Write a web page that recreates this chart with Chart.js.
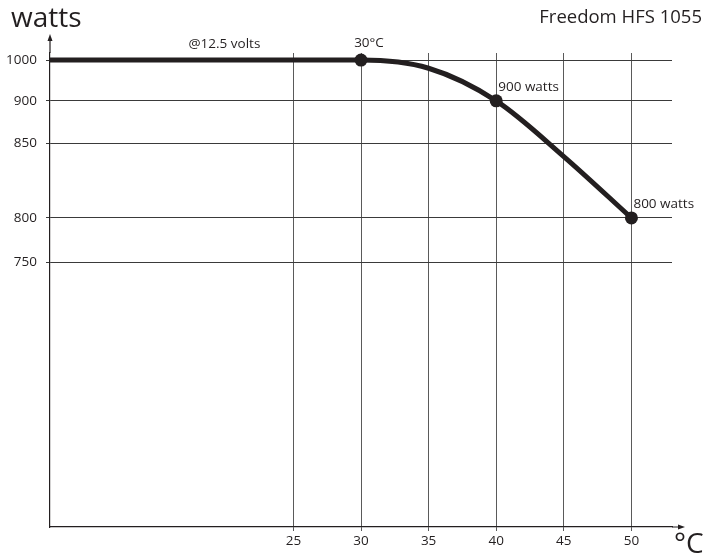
<!DOCTYPE html>
<html>
<head>
<meta charset="utf-8">
<script src="https://cdn.jsdelivr.net/npm/chart.js@4/dist/chart.umd.min.js"></script>
<style>
  html, body { margin: 0; background: #fff; }
</style>
</head>
<body>
<canvas id="chart" width="705" height="556"></canvas>
<script>
const temps = [7, 30, 35, 40, 45, 50];
const watts = [1000, 1000, 980, 900, 841, 800];
const markers = [false, true, false, true, false, true];
const pointNotes = ['', '30°C', '', '900 watts', '', '800 watts'];
const xTicks = [25, 30, 35, 40, 45, 50];
const yTicks = [750, 800, 850, 900, 1000];

// the watts axis in the original is not linear, so map each tick to its share of the height
const yKnots = [500, 750, 800, 850, 900, 1000, 1010];
const yFracs = [0, 0.559, 0.652, 0.810, 0.899, 0.985, 1];

const ink = '#231f20';
const fontFam = '"Open Sans", "DejaVu Sans", sans-serif';

const toFrac = (v) => {
    if (v <= yKnots[0]) return yFracs[0];
    for (let i = 0; i < yKnots.length - 1; i++) {
        if (v <= yKnots[i + 1]) {
            const t = (v - yKnots[i]) / (yKnots[i + 1] - yKnots[i]);
            return yFracs[i] + t * (yFracs[i + 1] - yFracs[i]);
        }
    }
    return yFracs[yFracs.length - 1];
}

const fromFrac = (f) => {
    for (let i = 0; i < yFracs.length - 1; i++) {
        if (f <= yFracs[i + 1]) {
            const t = (f - yFracs[i]) / (yFracs[i + 1] - yFracs[i]);
            return yKnots[i] + t * (yKnots[i + 1] - yKnots[i]);
        }
    }
    return yKnots[yKnots.length - 1];
}

class StepScale extends Chart.LinearScale {
    getPixelForValue(value) {
        return this.getPixelForDecimal(toFrac(value));
    }
    getValueForPixel(pixel) {
        return fromFrac(this.getDecimalForPixel(pixel));
    }
}
StepScale.id = 'step';
StepScale.defaults = {};
Chart.register(StepScale);

const decor = {
    id: 'decor',
    afterDatasetsDraw(chart) {
        const c = chart.ctx;
        const area = chart.chartArea;
        const xs = chart.scales.x;
        const ys = chart.scales.y;
        c.save();

        // axis arrows
        c.strokeStyle = ink;
        c.fillStyle = ink;
        c.lineWidth = 1.2;
        c.beginPath();
        c.moveTo(area.left, area.top);
        c.lineTo(area.left, 38);
        c.moveTo(area.right, area.bottom);
        c.lineTo(681, area.bottom);
        c.stroke();
        c.beginPath();
        c.moveTo(area.left, 34);
        c.lineTo(area.left - 2.5, 41);
        c.lineTo(area.left + 2.5, 41);
        c.closePath();
        c.fill();
        c.beginPath();
        c.moveTo(685, area.bottom);
        c.lineTo(678, area.bottom - 2.5);
        c.lineTo(678, area.bottom + 2.5);
        c.closePath();
        c.fill();

        // point notes
        const meta = chart.getDatasetMeta(0);
        c.font = '13.5px ' + fontFam;
        c.textBaseline = 'middle';
        pointNotes.forEach((txt, i) => {
            if (!txt) return;
            const p = meta.data[i];
            if (i == 1) {
                c.textAlign = 'center';
                c.fillText(txt, p.x + 8, p.y - 17);
            } else {
                c.textAlign = 'left';
                c.fillText(txt, p.x + 2, p.y - 14);
            }
        });
        c.textAlign = 'center';
        c.fillText('@12.5 volts', xs.getPixelForValue(19.9), ys.getPixelForValue(1000) - 16);

        // titles
        c.textBaseline = 'alphabetic';
        c.textAlign = 'left';
        c.font = '28px ' + fontFam;
        c.fillText('watts', 11, 27);
        c.textAlign = 'right';
        c.font = '18.5px ' + fontFam;
        c.fillText('Freedom HFS 1055', 702, 23);
        c.textAlign = 'left';
        c.font = '28px ' + fontFam;
        c.fillText('°C', 674, 553);
        c.restore();
    }
};

new Chart(document.getElementById('chart'), {
    type: 'line',
    data: {
        datasets: [{
            data: temps.map((t, i) => ({ x: t, y: watts[i] })),
            borderColor: ink,
            borderWidth: 5,
            cubicInterpolationMode: 'monotone',
            pointRadius: markers.map(m => m ? 6.5 : 0),
            pointBackgroundColor: ink,
            pointBorderWidth: 0,
            pointHoverRadius: 0,
            fill: false,
            clip: false
        }]
    },
    options: {
        responsive: false,
        animation: false,
        events: [],
        layout: { padding: { top: 53, right: 33, left: 0, bottom: 0 } },
        plugins: {
            legend: { display: false },
            tooltip: { enabled: false }
        },
        scales: {
            x: {
                type: 'linear',
                min: 7,
                max: 53,
                afterBuildTicks: (s) => { s.ticks = xTicks.map(v => ({ value: v })); },
                afterFit: (s) => { s.height = 29; },
                grid: { color: '#5a5a5a', lineWidth: 1, tickLength: 4 },
                border: { color: ink, width: 1.2 },
                ticks: { color: ink, font: { family: fontFam, size: 13.5 }, padding: 2, maxRotation: 0 }
            },
            y: {
                type: 'step',
                min: 500,
                max: 1010,
                afterBuildTicks: (s) => { s.ticks = yTicks.map(v => ({ value: v })); },
                afterFit: (s) => { s.width = 50; },
                grid: { color: '#3a3a3a', lineWidth: 1, tickLength: 4 },
                border: { color: ink, width: 1.2 },
                ticks: {
                    color: ink,
                    font: { family: fontFam, size: 13.5 },
                    padding: 9,
                    callback: (v) => String(v)
                }
            }
        }
    },
    plugins: [decor]
});
</script>
</body>
</html>
